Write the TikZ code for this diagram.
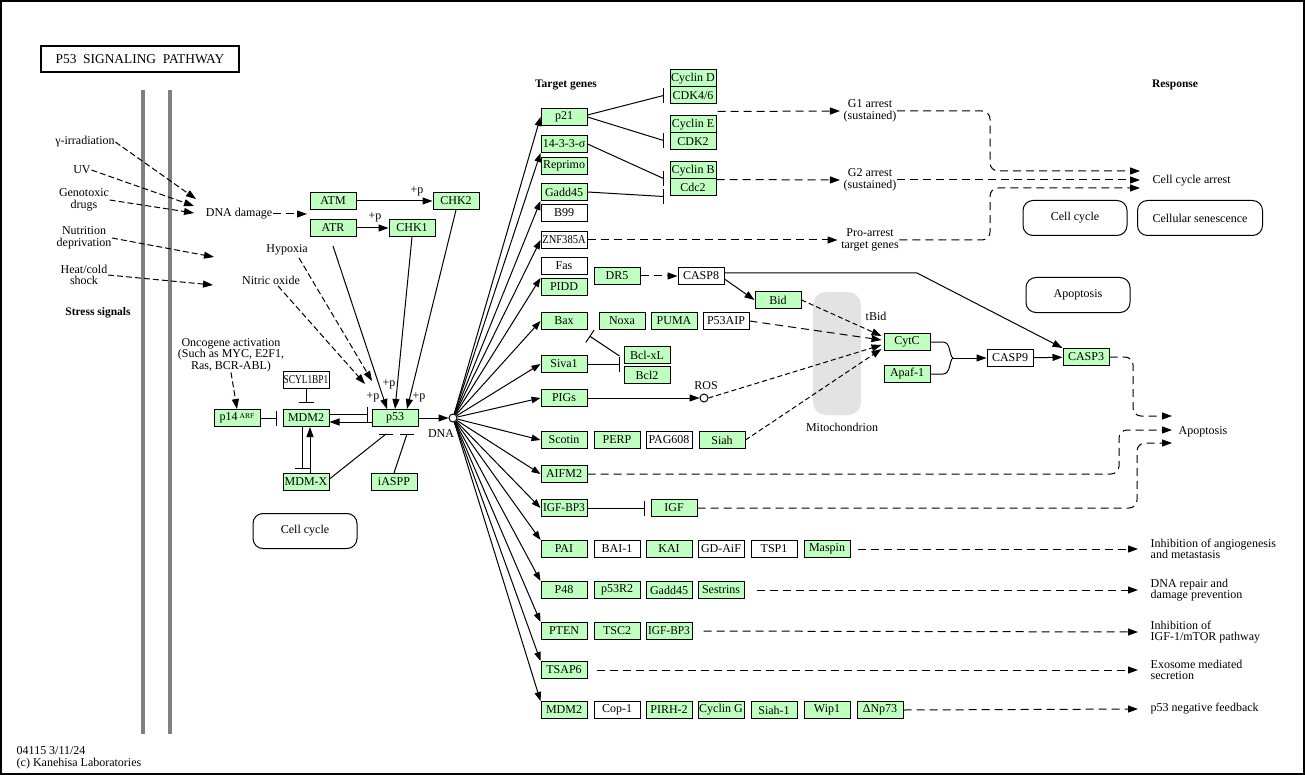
\documentclass[tikz,border=0pt]{standalone}
\usepackage{fontspec}
\setmainfont{Liberation Serif}
\usepackage{graphicx}
\usetikzlibrary{arrows.meta,calc}
\definecolor{kg}{HTML}{BFFFBF}
\definecolor{gbar}{HTML}{808080}
\definecolor{mito}{HTML}{E3E3E3}
\begin{document}
\begin{tikzpicture}[x=1pt,y=-1pt,
  every node/.style={font=\fontsize{12}{11.5}\selectfont},
  gb/.style={draw, fill=kg, line width=1pt, minimum width=46pt, minimum height=17pt, inner sep=0pt},
  wb/.style={gb, fill=white},
  tx/.style={align=center, inner sep=0.5pt},
  txl/.style={align=left, inner sep=0.5pt, anchor=west},
  hd/.style={font=\fontsize{11.5}{12}\selectfont\bfseries, inner sep=0.5pt},
  ln/.style={line width=1pt},
  ar/.style={ln, -{Triangle[length=10pt,width=7pt]}},
  ft/.style={ln, -{Triangle[length=9pt,width=6.5pt]}},
  da/.style={ar, dash pattern=on 8pt off 5pt},
  sd/.style={ar, dash pattern=on 6pt off 3pt},
  fd/.style={ar, dash pattern=on 5pt off 3pt},
  bt/.style={ln, -{Bar[width=15pt]}},
  rbox/.style={draw, rounded corners=10pt, minimum width=104pt, minimum height=35pt, line width=1pt},
]
\useasboundingbox (0,0) rectangle (1305,775);
% frame and title
\draw[line width=1.5pt] (1,1) rectangle (1304,774);
\node[draw, line width=1.8pt, minimum width=198pt, minimum height=26pt, inner sep=0pt, font=\fontsize{13.4}{14}\selectfont] (title) at (140,59) {P53\ \ SIGNALING\ \ PATHWAY};
% membrane bars
\fill[gbar] (141,90) rectangle (145,734);
\fill[gbar] (168,90) rectangle (172,734);

% ---------- stress signals ----------
\node[tx] (gam) at (85,142) {γ-irradiation};
\node[tx] (uv) at (82,170) {UV};
\node[tx] (geno) at (84,200) {Genotoxic\\drugs};
\node[tx] (nutr) at (84,238) {Nutrition\\deprivation};
\node[tx] (heat) at (84,275) {Heat/cold\\shock};
\node[hd] (stress) at (98,313) {Stress signals};
\node[tx] (dnad) at (239,214) {DNA damage};
\coordinate (dd1) at (196,199);
\coordinate (dd2) at (194,206);
\coordinate (dd3) at (194,213);
\coordinate (nutE) at (214,257);
\coordinate (heatE) at (213,285);
\draw[sd] (gam.east) -- (dd1);
\draw[sd] (uv.east) -- (dd2);
\draw[sd] (geno.east) -- (dd3);
\draw[sd] (nutr.east) -- (nutE);
\draw[sd] (heat.east) -- (heatE);

% ---------- kinases ----------
\node[gb] (atm) at (333,201) {ATM};
\node[gb] (chk2) at (456,201) {CHK2};
\node[gb] (atr) at (333,228) {ATR};
\node[gb] (chk1) at (412,228) {CHK1};
\coordinate (atmatr) at (307,214);
\draw[da] (dnad.east) -- (atmatr);
\draw[ar] (atm) -- (chk2);
\draw[ar] (atr) -- (chk1);
\node[tx] (pp1) at (417,191) {+p};
\node[tx] (pp2) at (375,217) {+p};

\node[tx] (hyp) at (287,250) {Hypoxia};
\node[tx] (nox) at (271,280) {Nitric oxide};

% ---------- p53 core ----------
\node[gb] (p53) at (395,418) {p53};
\node[gb] (mdm2) at (306,418) {MDM2};
\node[gb] (p14) at (237,418) {p14\,\raisebox{2.5pt}{\fontsize{7.5}{8}\selectfont ARF}};
\node[wb] (scyl) at (306,380) {\scalebox{0.78}[1]{SCYL1BP1}};
\node[gb] (mdmx) at (306,482) {MDM-X};
\node[gb] (iaspp) at (394,482) {iASPP};
\node[draw, circle, ln, fill=white, minimum size=8pt, inner sep=0pt] (dna) at (453,418) {};
\node[tx] (dnal) at (441,434) {DNA};

\coordinate (hypE) at (372,381);
\coordinate (noxE) at (365,384);
\draw[sd] ($(hyp.south)+(12,2)$) -- (hypE);
\draw[sd] ($(nox.south)+(7,1)$) -- (noxE);
\draw[ar] ($(atr.south)+(0,9)$) -- ([xshift=-8pt]p53.north);
\draw[ar] (chk1.south) -- (p53.north);
\draw[ar] (chk2.south) -- ([xshift=12pt]p53.north);
\node[tx] (pp3) at (373,397) {+p};
\node[tx] (pp4) at (389,384) {+p};
\node[tx] (pp5) at (419,397) {+p};

\node[tx] (onco) at (231,355) {Oncogene activation\\(Such as MYC, E2F1,\\Ras, BCR-ABL)};
\draw[sd] (onco.south) -- (p14.north);

\draw[bt, shorten >=6pt] (p14) -- (mdm2);
\draw[bt, shorten >=6pt] (scyl) -- (mdm2);
\draw[bt, shorten >=4pt] ([yshift=4pt]mdm2.east) -- ([yshift=4pt]p53.west);
\draw[ar] ([yshift=-4pt]p53.west) -- ([yshift=-4pt]mdm2.east);
\draw[bt, shorten >=4pt] ([xshift=-4pt]mdm2.south) -- ([xshift=-4pt]mdmx.north);
\draw[ar] ([xshift=4pt]mdmx.north) -- ([xshift=4pt]mdm2.south);
\coordinate (b1) at ($(p53.south)+(-9,7)$);
\coordinate (b2) at ($(p53.south)+(12,7)$);
\draw[ln] ([yshift=3pt]mdmx.east) -- (b1);
\draw[ln] ([xshift=-7pt]b1) -- ([xshift=7pt]b1);
\draw[ln] (iaspp.north) -- (b2);
\draw[ln] ([xshift=-7pt]b2) -- ([xshift=7pt]b2);
\draw[ar] (p53.east) -- (dna.west);

\node[rbox] (cc2) at (305,531) {Cell cycle};

% ---------- target genes ----------
\node[hd] (tg) at (566,85) {Target genes};
\node[gb] (p21) at (564,117) {p21};
\node[gb] (r1433) at (564,144) {14-3-3-σ};
\node[gb] (repr) at (564,166) {Reprimo};
\node[gb] (gadd) at (564,192) {Gadd45};
\node[wb] (b99) at (564,213) {B99};
\node[wb] (znf) at (564,240) {\scalebox{0.88}[1]{ZNF385A}};
\node[wb] (fas) at (564,266) {Fas};
\node[gb] (pidd) at (564,287) {PIDD};
\node[gb] (bax) at (564,321) {Bax};
\node[gb] (siva) at (564,364) {Siva1};
\node[gb] (pigs) at (564,398) {PIGs};
\node[gb] (scot) at (564,440) {Scotin};
\node[gb] (aifm) at (564,474) {AIFM2};
\node[gb] (igfbpa) at (564,508) {\scalebox{0.95}[1]{IGF-BP3}};
\node[gb] (pai) at (564,549) {PAI};
\node[gb] (p48) at (564,590) {P48};
\node[gb] (pten) at (564,631) {PTEN};
\node[gb] (tsap) at (564,670) {TSAP6};
\node[gb] (mdmb) at (564,710) {MDM2};

\foreach \t in {p21.west, r1433.south west, gadd.south west, znf.west, pidd.north west, bax.west, siva.west, pigs.west, scot.west, aifm.west, igfbpa.west, pai.north west, p48.north west, pten.north west, tsap.north west, mdmb.north west}
  \draw[ft] (dna) -- (\t);

% ---------- cell cycle arrest ----------
\node[gb] (cycd) at (693,78.5) {Cyclin D};
\node[gb] (cdk46) at (693,95.5) {CDK4/6};
\node[gb] (cyce) at (693,124.5) {Cyclin E};
\node[gb] (cdk2) at (693,141.5) {CDK2};
\node[gb] (cycb) at (693,170.5) {Cyclin B};
\node[gb] (cdc2) at (693,187.5) {Cdc2};
\coordinate (c1) at ($(cdk46.west)+(-6,0)$);
\coordinate (c2) at ($(cdk2.west)+(-6,-1)$);
\coordinate (c3) at ($(cycb.south west)+(-6,-1)$);
\coordinate (c4) at ($(cdc2.south west)+(-6,0)$);
\draw[ln] ([yshift=2pt]p21.east) -- (c1);
\draw[ln] (p21.east) -- (c2);
\draw[ln] (r1433.east) -- (c3);
\draw[ln] (gadd.east) -- (c4);
\foreach \c in {c1,c2,c3,c4}
  \draw[ln] ([yshift=7.5pt]\c) -- ([yshift=-7.5pt]\c);

\node[tx] (g1) at (870,111) {G1 arrest\\(sustained)};
\node[tx] (g2) at (870,180) {G2 arrest\\(sustained)};
\node[tx] (pro) at (870,240) {Pro-arrest\\target genes};
\node[hd] (resp) at (1175,85) {Response};
\node[txl] (cca) at (1152,181) {Cell cycle arrest};
\coordinate (ca1) at ($(cca.west)+(-12,-10)$);
\coordinate (ca2) at ($(cca.west)+(-12,-1)$);
\coordinate (ca3) at ($(cca.west)+(-12,7)$);
\draw[da, shorten >=3pt] ($(cdk46.south east)+(1,7)$) -- (g1.west);
\draw[da, shorten >=3pt] (cycb.south east) -- (g2.west);
\draw[da, shorten >=3pt] (znf.east) -- (pro.west);
\draw[da, rounded corners=8pt] (g1.east) -- (990,111) -- (990,171) -- (ca1);
\draw[da] (g2.east) -- (ca2);
\draw[da, rounded corners=8pt] (pro.east) -- (990,240) -- (990,188) -- (ca3);

\node[rbox] (cc1) at (1075,218) {Cell cycle};
\node[rbox, minimum width=125pt] (csen) at (1200,218) {Cellular senescence};
\node[rbox] (apo1) at (1078,295) {Apoptosis};

% ---------- apoptosis ----------
\fill[mito, rounded corners=13pt] (813,292) rectangle (861,415);
\node[tx] (mitol) at (842,427) {Mitochondrion};

\node[gb] (dr5) at (617,276) {DR5};
\node[wb] (casp8) at (701,276) {CASP8};
\node[gb] (bid) at (778,300) {Bid};
\node[gb] (noxa) at (622,321) {Noxa};
\node[gb] (puma) at (674,321) {PUMA};
\node[wb] (p53aip) at (726,321) {P53AIP};
\node[gb] (bclxl) at (647,355) {Bcl-xL};
\node[gb] (bcl2) at (647,375) {Bcl2};
\node[draw, circle, ln, fill=white, minimum size=8pt, inner sep=0pt] (ros) at (704,398) {};
\node[tx] (rosl) at (706,386) {ROS};
\node[gb] (perp) at (617,440) {PERP};
\node[wb] (pag) at (669,440) {PAG608};
\node[gb] (siah) at (722,440) {Siah};
\node[gb] (igf) at (674,508) {IGF};
\node[gb] (cytc) at (907,342) {CytC};
\node[gb] (apaf) at (907,374) {Apaf-1};
\node[wb] (casp9) at (1010,358) {CASP9};
\node[gb] (casp3) at (1086,357) {CASP3};
\node[tx] (tbid) at (876,316) {tBid};

\draw[da] (dr5) -- (casp8);
\draw[ar] ([yshift=-3pt]casp8.east) -- (bid.west);
\draw[ar] ([yshift=3pt]casp8.east) -- (917,273) -- (casp3.north west);
\coordinate (bj) at ($(siva.east -| bclxl.west)+(-4,-8)$);
\coordinate (bxb) at ($(bax.south east)+(2,6)$);
\draw[bt, shorten >=4pt] (siva.east) -- (siva.east -| bclxl.west);
\draw[bt] (bj) -- (bxb);
\draw[ar] (pigs.east) -- (ros.west);
\coordinate (ct1) at ($(cytc.west)+(-2,-6)$);
\coordinate (ct2) at ($(cytc.west)+(-2,-2)$);
\coordinate (ct3) at ($(cytc.west)+(-2,3)$);
\coordinate (ct4) at ($(cytc.west)+(-2,7)$);
\draw[fd] (bid.east) -- (ct1);
\draw[da] (p53aip.east) -- (ct2);
\draw[fd] (ros.east) -- (ct3);
\draw[fd] (siah.east) -- (ct4);
\coordinate (jn) at (953,358);
\draw[ln] (cytc.east) -- (943,342) .. controls (951,342) and (949,356) .. (jn);
\draw[ln] (apaf.east) -- (943,374) .. controls (951,374) and (949,360) .. (jn);
\draw[ar] (jn) -- (casp9.west);
\draw[ar] (casp9) -- (casp3);

\node[txl] (apo) at (1178,432) {Apoptosis};
\coordinate (ap1) at ($(apo.west)+(-6,-16)$);
\coordinate (ap2) at ($(apo.west)+(-6,-2)$);
\coordinate (ap3) at ($(apo.west)+(-6,11)$);
\draw[da, rounded corners=8pt] (casp3.east) -- (1133,357) -- (1133,416) -- (ap1);
\draw[da, rounded corners=8pt] (aifm.east) -- (1119,474) -- (1119,430) -- (ap2);
\draw[bt, shorten >=6pt] (igfbpa) -- (igf);
\draw[da, rounded corners=8pt] (igf.east) -- (1137,508) -- (1137,443) -- (ap3);

% ---------- bottom rows ----------
\node[wb] (bai) at (617,549) {BAI-1};
\node[gb] (kai) at (669,549) {KAI};
\node[wb] (gdaif) at (721,549) {GD-AiF};
\node[wb] (tsp1) at (774,549) {TSP1};
\node[gb] (masp) at (827,549) {Maspin};
\node[gb] (p53r2) at (617,590) {p53R2};
\node[gb] (gaddb) at (669,590) {Gadd45};
\node[gb] (sest) at (721,590) {Sestrins};
\node[gb] (tsc2) at (617,631) {TSC2};
\node[gb] (igfbpb) at (669,631) {\scalebox{0.95}[1]{IGF-BP3}};
\node[wb] (cop1) at (617,710) {Cop-1};
\node[gb] (pirh) at (669,710) {PIRH-2};
\node[gb] (cycg) at (721,710) {Cyclin G};
\node[gb] (siah1) at (774,710) {Siah-1};
\node[gb] (wip1) at (827,710) {Wip1};
\node[gb] (dnp) at (880,710) {ΔNp73};

\node[txl] (o1) at (1150,549) {Inhibition of angiogenesis\\and metastasis};
\node[txl] (o2) at (1150,590) {DNA repair and\\damage prevention};
\node[txl] (o3) at (1150,632) {Inhibition of\\IGF-1/mTOR pathway};
\node[txl] (o4) at (1150,670) {Exosome mediated\\secretion};
\node[txl] (o5) at (1150,709) {p53 negative feedback};
\foreach \o in {o1,o2,o3,o4,o5}
  \coordinate (\o a) at ($(\o.west)+(-12,0)$);
\draw[da, shorten <=7pt] (masp.east) -- (o1a);
\draw[da, shorten <=12pt] (sest.east) -- (o2a);
\draw[da, shorten <=11pt] (igfbpb.east) -- (o3a);
\draw[da, shorten <=9pt] (tsap.east) -- (o4a);
\draw[da] (dnp.east) -- (o5a);

\node[txl] (cr) at (16,758) {04115 3/11/24\\(c) Kanehisa Laboratories};
\end{tikzpicture}
\end{document}
